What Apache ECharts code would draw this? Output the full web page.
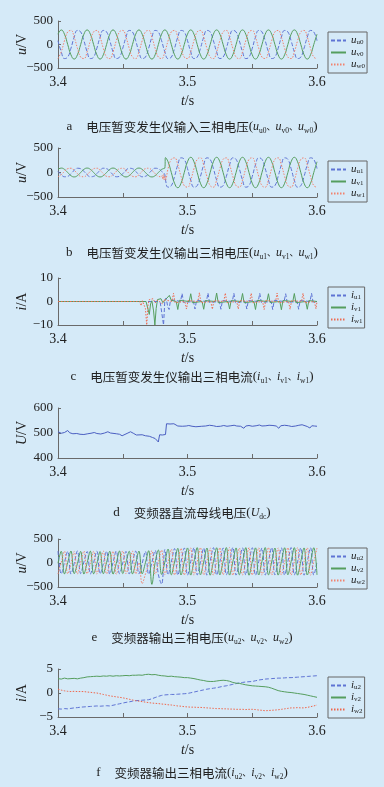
<!DOCTYPE html>
<html>
<head>
<meta charset="utf-8">
<script src="https://cdn.jsdelivr.net/npm/echarts@6/dist/echarts.min.js"></script>
<style>
html, body { margin: 0; padding: 0; background: #d5eaf8; }
#chart { width: 384px; height: 787px; }
</style>
</head>
<body>
<div id="chart"></div>
<script>
// ---- data ----
// a: generator input voltages, sampled every 2.5 ms
const aU = [80,-155,-299,-268,-80,155,299,268, 80,-155,-299,-268,-80,155,299,268, 80,-155,-299,-268,-80,155,299,268, 80,-155,-299,-268,-80,155,299,268, 80,-155,-299,-268,-80,155,299,268, 80,-155,-299,-268,-80,155,299,268, 80,-155,-299,-268,-80,155,299,268, 80,-155,-299,-268,-80,155,299,268, 80,-155,-299,-268,-80,155,299,268, 80,-155,-299,-268,-80,155,299,268, 80];
const aV = [219,310,219,0,-219,-310,-219,0, 219,310,219,0,-219,-310,-219,0, 219,310,219,0,-219,-310,-219,0, 219,310,219,0,-219,-310,-219,0, 219,310,219,0,-219,-310,-219,0, 219,310,219,0,-219,-310,-219,0, 219,310,219,0,-219,-310,-219,0, 219,310,219,0,-219,-310,-219,0, 219,310,219,0,-219,-310,-219,0, 219,310,219,0,-219,-310,-219,0, 219];
const aW = [-299,-155,80,268,299,155,-80,-268, -299,-155,80,268,299,155,-80,-268, -299,-155,80,268,299,155,-80,-268, -299,-155,80,268,299,155,-80,-268, -299,-155,80,268,299,155,-80,-268, -299,-155,80,268,299,155,-80,-268, -299,-155,80,268,299,155,-80,-268, -299,-155,80,268,299,155,-80,-268, -299,-155,80,268,299,155,-80,-268, -299,-155,80,268,299,155,-80,-268, -299];

// b: generator output voltages (sag, then recovery at ~3.483 s)
const bStepTimes = [3.4805, 3.481, 3.4815, 3.482, 3.4825, 3.483];
const bU = [23,-45,-87,-78,-23,45,87,78, 23,-45,-87,-78,-23,45,87,78, 23,-45,-87,-78,-23,45,87,78, 23,-45,-87,-78,-23,45,87,78, 23,
  10, 5, 0, -20, -45, -150,
  -299,-268,-80,155,299,268,80,-155, -299,-268,-80,155,299,268,80,-155, -299,-268,-80,155,299,268,80,-155, -299,-268,-80,155,299,268,80,-155, -299,-268,-80,155,299,268,80,-155, -299,-268,-80,155,299,268,80];
const bV = [64,90,64,0,-64,-90,-64,0, 64,90,64,0,-64,-90,-64,0, 64,90,64,0,-64,-90,-64,0, 64,90,64,0,-64,-90,-64,0, 64,
  70, 75, 80, 85, 90, 305,
  219,0,-219,-310,-219,0,219,310, 219,0,-219,-310,-219,0,219,310, 219,0,-219,-310,-219,0,219,310, 219,0,-219,-310,-219,0,219,310, 219,0,-219,-310,-219,0,219,310, 219,0,-219,-310,-219,0,219];
const bW = [-87,-45,23,78,87,45,-23,-78, -87,-45,23,78,87,45,-23,-78, -87,-45,23,78,87,45,-23,-78, -87,-45,23,78,87,45,-23,-78, -87,
  -60, -140, -40, -150, -70, -155,
  80,268,299,155,-80,-268,-299,-155, 80,268,299,155,-80,-268,-299,-155, 80,268,299,155,-80,-268,-299,-155, 80,268,299,155,-80,-268,-299,-155, 80,268,299,155,-80,-268,-299,-155, 80,268,299,155,-80,-268,-299];

// c: generator output currents [t, i]
const cU = [[3.4,0],[3.477,0],[3.478,0.8],[3.479,-0.6],[3.4805,0.2],[3.4815,-10],[3.4825,0.5],[3.4835,1.5],[3.4848,-2.4],[3.4858,-3.4],[3.4868,0.4],[3.488,0],[3.4895,0.6],[3.491,0],
  [3.4946,0],[3.4958,3.4],[3.497,-0.4],[3.498,0],[3.5046,0],[3.5058,-3.2],[3.507,0.5],[3.508,0],
  [3.5146,0],[3.5158,3.6],[3.517,-0.4],[3.518,0],[3.5246,0],[3.5258,-3.3],[3.527,0.4],[3.528,0],
  [3.5346,0],[3.5358,3.5],[3.537,-0.5],[3.538,0],[3.5446,0],[3.5458,-3.2],[3.547,0.4],[3.548,0],
  [3.5546,0],[3.5558,3.5],[3.557,-0.4],[3.558,0],[3.5646,0],[3.5658,-3.4],[3.567,0.5],[3.568,0],
  [3.5746,0],[3.5758,3.3],[3.577,-0.4],[3.578,0],[3.5846,0],[3.5858,-3.3],[3.587,0.4],[3.588,0],
  [3.5946,0],[3.5958,3.5],[3.597,-0.4],[3.598,0],[3.6,0]];
const cV = [[3.4,0],[3.468,0],[3.4695,0.5],[3.4705,-5.5],[3.4715,-1],[3.4725,0.3],[3.4738,-4],[3.4748,-10],[3.4758,-3],[3.4768,0.8],[3.478,0],[3.4795,1.2],[3.481,-0.5],[3.483,0.8],[3.4845,0],[3.486,2.6],[3.4875,0.5],[3.489,0],
  [3.4913,0],[3.4925,-3.4],[3.4937,0.5],[3.4947,0],[3.5013,0],[3.5025,3.3],[3.5037,-0.5],[3.5047,0],
  [3.5113,0],[3.5125,-3.3],[3.5137,0.4],[3.5147,0],[3.5213,0],[3.5225,3.6],[3.5237,-0.5],[3.5247,0],
  [3.5313,0],[3.5325,-3.2],[3.5337,0.4],[3.5347,0],[3.5413,0],[3.5425,3.4],[3.5437,-0.5],[3.5447,0],
  [3.5513,0],[3.5525,-3.4],[3.5537,0.5],[3.5547,0],[3.5613,0],[3.5625,3.3],[3.5637,-0.4],[3.5647,0],
  [3.5713,0],[3.5725,-3.5],[3.5737,0.4],[3.5747,0],[3.5813,0],[3.5825,3.4],[3.5837,-0.5],[3.5847,0],
  [3.5913,0],[3.5925,-3.3],[3.5937,0.4],[3.5947,0],[3.6,0]];
const cW = [[3.4,0],[3.463,0],[3.4642,-1.8],[3.4652,0.3],[3.4665,0],[3.4675,-3],[3.4685,-10],[3.4695,-1.5],[3.4705,0.8],[3.472,0],[3.4735,1.2],[3.475,-0.6],[3.477,0.6],[3.4785,0],[3.4805,-1],[3.482,0.8],[3.4835,0],
  [3.488,0],[3.4892,3.5],[3.4904,-0.5],[3.4914,0],[3.498,0],[3.4992,-3.2],[3.5004,0.4],[3.5014,0],
  [3.508,0],[3.5092,3.7],[3.5104,-0.5],[3.5114,0],[3.518,0],[3.5192,-3.3],[3.5204,0.4],[3.5214,0],
  [3.528,0],[3.5292,3.6],[3.5304,-0.5],[3.5314,0],[3.538,0],[3.5392,-3.2],[3.5404,0.4],[3.5414,0],
  [3.548,0],[3.5492,3.5],[3.5504,-0.5],[3.5514,0],[3.558,0],[3.5592,-3.4],[3.5604,0.4],[3.5614,0],
  [3.568,0],[3.5692,3.6],[3.5704,-0.5],[3.5714,0],[3.578,0],[3.5792,-3.3],[3.5804,0.4],[3.5814,0],
  [3.588,0],[3.5892,3.5],[3.5904,-0.5],[3.5914,0],[3.598,0],[3.5992,-3.1],[3.6,0]];

// d: DC bus voltage [t, U]
const dUdc = [[3.4,505],[3.4025,499],[3.405,502],[3.4065,496],[3.4075,510],[3.409,501],[3.4115,497],[3.413,490],[3.4145,498],[3.417,495],[3.42,494],[3.4215,488],[3.423,497],[3.4255,499],[3.428,502],[3.43,498],[3.4315,491],[3.433,496],[3.436,500],[3.4385,505],[3.4405,500],[3.442,494],[3.445,497],[3.4475,495],[3.4495,489],[3.451,496],[3.454,500],[3.456,505],[3.4585,498],[3.4605,492],[3.462,496],[3.465,493],[3.4675,489],[3.469,484],[3.4705,487],[3.473,482],[3.475,478],[3.4765,471],[3.4775,464],[3.478,480],[3.4785,493],[3.4805,492],[3.482,496],[3.483,494],[3.4838,537],[3.4848,541],[3.4865,536],[3.488,533],[3.4895,537],[3.491,531],[3.4925,528],[3.494,531],[3.496,527],[3.4975,521],[3.499,528],[3.501,530],[3.5035,527],[3.505,532],[3.5065,525],[3.508,529],[3.511,527],[3.5125,520],[3.514,528],[3.517,531],[3.5185,534],[3.52,529],[3.5225,526],[3.524,518],[3.5255,527],[3.528,530],[3.5305,527],[3.532,521],[3.5335,529],[3.536,531],[3.538,528],[3.5395,533],[3.541,527],[3.5435,519],[3.545,528],[3.5475,530],[3.55,527],[3.5515,522],[3.553,529],[3.5555,532],[3.5575,528],[3.559,520],[3.5605,529],[3.563,531],[3.5645,538],[3.566,530],[3.5685,528],[3.5705,519],[3.572,529],[3.575,531],[3.5765,535],[3.578,529],[3.5805,526],[3.582,518],[3.5835,528],[3.586,531],[3.5885,533],[3.59,529],[3.5925,526],[3.5945,520],[3.596,529],[3.598,528],[3.6,527]];

// e: inverter output voltages, sampled every 2.5 ms
const eU = [248,-226,15, 240,-230,-10, 252,-220,20, 238,-228,5, 246,-224,-15, 244,-232,10, 250,-222,0, 242,-228,18, 248,-226,-8, 240,-234,12, 262,-240,-440, 280,-245,20, 300,-250,25, 312,-252,30, 318,-248,20, 310,-255,35, 320,-250,25, 314,-246,30, 322,-252,20, 316,-248,35, 318,-254,28, 312,-250,30, 320,-246,22, 316,-252,32, 322,-248,26, 314,-254,30, 318,-250,25];
const eV = [-5,244,-228, 12,250,-222, -10,242,-230, 8,248,-226, -12,240,-224, 10,246,-232, -6,252,-220, 14,244,-228, -8,248,-226, 6,256,-445, 10,270,-238, 18,290,-246, 22,306,-250, 25,314,-252, 30,320,-246, 20,312,-254, 28,318,-248, 32,322,-252, 24,314,-246, 30,320,-254, 26,316,-250, 34,322,-248, 22,312,-252, 30,318,-246, 28,320,-254, 32,314,-250, 24,318,-248];
const eW = [-230,8,246, -224,-12,240, -228,10,250, -222,-6,244, -230,14,248, -226,-8,242, -232,12,252, -224,-10,246, -228,6,-430, -230,-14,258, -236,10,268, -244,18,288, -248,22,304, -250,28,312, -254,24,320, -248,30,314, -252,26,318, -246,32,322, -254,24,312, -250,30,320, -248,28,316, -254,22,322, -250,32,314, -246,26,318, -252,30,320, -248,24,316, -254,28,312];

// f: inverter output currents, sampled every 2.5 ms
const fU = [-3.3,-3.35,-3.25,-3.3, -3.2,-3.1,-3.05,-2.95, -2.9,-2.85,-2.8,-2.75, -2.7,-2.75,-2.7,-2.65, -2.7,-2.55,-2.4,-2.25, -2.1,-1.95,-1.85,-1.7, -1.6,-1.55,-1.5,-1.45, -1.4,-1.2,-0.95,-0.7, -0.5,-0.4,-0.35,-0.3, -0.3,-0.25,-0.2,-0.15, -0.1,0.05,0.2,0.35, 0.5,0.65,0.8,0.9, 1.0,1.1,1.25,1.4, 1.5,1.65,1.8,1.95, 2.1,2.2,2.3,2.35, 2.4,2.55,2.7,2.8, 2.9,2.95,3.0,3.05, 3.1,3.1,3.15,3.2, 3.2,3.25,3.3,3.35, 3.4,3.45,3.5,3.55, 3.6];
const fV = [3.0,2.9,3.1,2.95, 3.0,3.05,2.95,3.1, 3.2,3.35,3.4,3.45, 3.5,3.45,3.55,3.5, 3.6,3.5,3.6,3.55, 3.6,3.65,3.6,3.7, 3.7,3.75,3.7,3.85, 3.9,3.8,3.85,3.7, 3.6,3.55,3.45,3.5, 3.4,3.35,3.3,3.2, 3.2,3.1,3.0,2.85, 2.7,2.6,2.45,2.4, 2.4,2.5,2.6,2.65, 2.6,2.45,2.2,2.05, 2.0,1.85,1.7,1.6, 1.5,1.45,1.4,1.35, 1.3,1.2,1.0,0.75, 0.5,0.35,0.25,0.15, 0.1,0.0,-0.1,-0.2, -0.3,-0.45,-0.6,-0.75, -0.9];
const fW = [0.8,0.6,0.45,0.35, 0.3,0.35,0.3,0.3, 0.3,0.2,0.15,0.05, 0.0,-0.15,-0.3,-0.45, -0.6,-0.7,-0.8,-0.9, -1.0,-1.15,-1.3,-1.45, -1.6,-1.7,-1.8,-1.9, -2.0,-2.1,-2.15,-2.2, -2.3,-2.35,-2.45,-2.5, -2.6,-2.7,-2.75,-2.85, -2.9,-2.95,-2.95,-3.0, -3.0,-3.05,-3.1,-3.15, -3.2,-3.25,-3.25,-3.3, -3.3,-3.35,-3.35,-3.4, -3.4,-3.4,-3.45,-3.4, -3.4,-3.45,-3.55,-3.6, -3.7,-3.65,-3.6,-3.55, -3.5,-3.4,-3.3,-3.2, -3.1,-3.1,-3.05,-3.1, -3.1,-3.0,-2.85,-2.7, -2.5];

// ---- helpers ----
function steps(a, b, d) {
    const out = [];
    for (let i = 0; a + i * d <= b + 1e-9; i++) out.push(+(a + i * d).toFixed(5));
    return out;
}
function zip(t, v) { return t.map((x, i) => [x, v[i]]); }

const grid25 = steps(3.4, 3.6, 0.0025);
const bT = steps(3.4, 3.48, 0.0025).concat(bStepTimes, steps(3.485, 3.6, 0.0025));

const SERIF = 'Liberation Serif';
const CJK = 'Noto Sans CJK SC';
const INK = '#222';
const AXIS = '#6a6a6a';
const BLUE = '#5f74d4', GREEN = '#559e5e', RED = '#f2826e';
const DASH = [4, 2], DOT = [1.5, 1.5];

const nameRich = {
    i: { fontFamily: SERIF, fontStyle: 'italic', fontSize: 14, color: INK },
    r: { fontFamily: SERIF, fontSize: 14, color: INK }
};
const capRich = {
    n: { fontFamily: SERIF, fontSize: 13, color: INK, fontWeight: 'normal', padding: [0, 14, 0, 0] },
    c: { fontFamily: CJK, fontSize: 12.5, color: INK, fontWeight: 'normal', lineHeight: 16 },
    r: { fontFamily: SERIF, fontSize: 13, color: INK, fontWeight: 'normal' },
    i: { fontFamily: SERIF, fontStyle: 'italic', fontSize: 12, color: INK, fontWeight: 'normal' },
    s: { fontFamily: SERIF, fontSize: 7.5, color: INK, fontWeight: 'normal', verticalAlign: 'bottom' },
    p: { fontFamily: CJK, fontSize: 9, color: INK, fontWeight: 'normal' }
};
const legRich = {
    i: { fontFamily: SERIF, fontStyle: 'italic', fontSize: 11, color: INK, lineHeight: 11 },
    s: { fontFamily: SERIF, fontSize: 7, color: INK, verticalAlign: 'bottom' }
};

function cap(letter, text, sym, subs) {
    const parts = subs.map(s => '{i|' + sym + '}{s|' + s + '}');
    return '{n|' + letter + '}{c|' + text + '}{r|(}' + parts.join('{p|、}') + '{r|)}';
}

const panels = [
    { top: 21, h: 47, min: -500, max: 500, iv: 500, yName: '{i|u}{r|/V}', capTop: 114, legTop: 32,
      cap: cap('a', '电压暂变发生仪输入三相电压', 'u', ['u0', 'v0', 'w0']),
      series: [['uu0', zip(grid25, aU), BLUE, DASH], ['uv0', zip(grid25, aV), GREEN, 'solid'], ['uw0', zip(grid25, aW), RED, DOT]], smooth: true },
    { top: 148, h: 49, min: -500, max: 500, iv: 500, yName: '{i|u}{r|/V}', capTop: 240, legTop: 161,
      cap: cap('b', '电压暂变发生仪输出三相电压', 'u', ['u1', 'v1', 'w1']),
      series: [['uu1', zip(bT, bU), BLUE, DASH], ['uv1', zip(bT, bV), GREEN, 'solid'], ['uw1', zip(bT, bW), RED, DOT]], smooth: true },
    { top: 278, h: 47, min: -10, max: 10, iv: 10, yName: '{i|i}{r|/A}', capTop: 364, legTop: 287,
      cap: cap('c', '电压暂变发生仪输出三相电流', 'i', ['u1', 'v1', 'w1']),
      series: [['iu1', cU, BLUE, DASH], ['iv1', cV, GREEN, 'solid'], ['iw1', cW, '#ee6a50', DOT]], smooth: false },
    { top: 408, h: 50, min: 400, max: 600, iv: 100, yName: '{i|U}{r|/V}', capTop: 500, legTop: null,
      cap: '{n|d}{c|变频器直流母线电压}{r|(}{i|U}{s|dc}{r|)}',
      series: [['Udc', dUdc, '#4b5fc2', 'solid']], smooth: false },
    { top: 539, h: 48, min: -500, max: 500, iv: 500, yName: '{i|u}{r|/V}', capTop: 625, legTop: 548,
      cap: cap('e', '变频器输出三相电压', 'u', ['u2', 'v2', 'w2']),
      series: [['uu2', zip(grid25, eU), BLUE, DASH], ['uv2', zip(grid25, eV), GREEN, 'solid'], ['uw2', zip(grid25, eW), RED, DOT]], smooth: 0.4 },
    { top: 669, h: 48, min: -5, max: 5, iv: 5, yName: '{i|i}{r|/A}', capTop: 760, legTop: 677,
      cap: cap('f', '变频器输出三相电流', 'i', ['u2', 'v2', 'w2']),
      series: [['iu2', zip(grid25, fU), BLUE, DASH], ['iv2', zip(grid25, fV), GREEN, 'solid'], ['iw2', zip(grid25, fW), '#f0654a', DOT]], smooth: false }
];

const option = {
    backgroundColor: '#d5eaf8',
    animation: false,
    grid: [], xAxis: [], yAxis: [], series: [], legend: [], title: []
};

panels.forEach((p, gi) => {
    option.grid.push({ left: 58, width: 259, top: p.top, height: p.h });
    option.xAxis.push({
        gridIndex: gi, type: 'value', min: 3.4, max: 3.6, interval: 0.05,
        axisLine: { show: true, onZero: false, lineStyle: { color: AXIS } },
        axisTick: { show: true, inside: true, length: 4, lineStyle: { color: AXIS } },
        splitLine: { show: false },
        axisLabel: {
            fontFamily: SERIF, fontSize: 14, color: INK, margin: 7,
            formatter: v => Math.abs(v * 10 - Math.round(v * 10)) < 1e-6 ? v.toFixed(1) : ''
        },
        name: '{i|t}{r|/s}', nameLocation: 'middle', nameGap: 26,
        nameMoveOverlap: false,
        nameTextStyle: { rich: nameRich }
    });
    option.yAxis.push({
        gridIndex: gi, type: 'value', min: p.min, max: p.max, interval: p.iv,
        axisLine: { show: true, onZero: false, lineStyle: { color: AXIS } },
        axisTick: { show: true, inside: true, length: 3, lineStyle: { color: AXIS } },
        splitLine: { show: false },
        axisLabel: {
            fontFamily: SERIF, fontSize: 13, color: INK, margin: 5,
            formatter: v => v < 0 ? '\u2212' + Math.abs(v) : String(v)
        },
        name: p.yName, nameLocation: 'middle', nameRotate: 90, nameGap: 29,
        nameMoveOverlap: false,
        nameTextStyle: { rich: nameRich }
    });
    p.series.forEach(s => {
        option.series.push({
            name: s[0], type: 'line', xAxisIndex: gi, yAxisIndex: gi,
            data: s[1], symbol: 'none', smooth: p.smooth,
            color: s[2],
            lineStyle: { color: s[2], width: 1, type: s[3] }
        });
    });
    if (p.legTop !== null) {
        option.legend.push({
            left: 328, top: p.legTop, orient: 'vertical',
            data: p.series.map(s => s[0]),
            itemWidth: 15, itemHeight: 8, itemGap: 1,
            padding: [3, 2, 3, 2],
            borderColor: '#666', borderWidth: 1,
            selectedMode: false,
            itemStyle: { opacity: 0, borderWidth: 0 },
            textStyle: { rich: legRich, lineHeight: 11 },
            formatter: n => '{i|' + n[0] + '}{s|' + n.slice(1) + '}'
        });
    }
    option.title.push({
        text: p.cap, left: 'center', top: p.capTop,
        textStyle: { rich: capRich, fontWeight: 'normal' }
    });
});

const chart = echarts.init(document.getElementById('chart'));
chart.setOption(option);
</script>
</body>
</html>
